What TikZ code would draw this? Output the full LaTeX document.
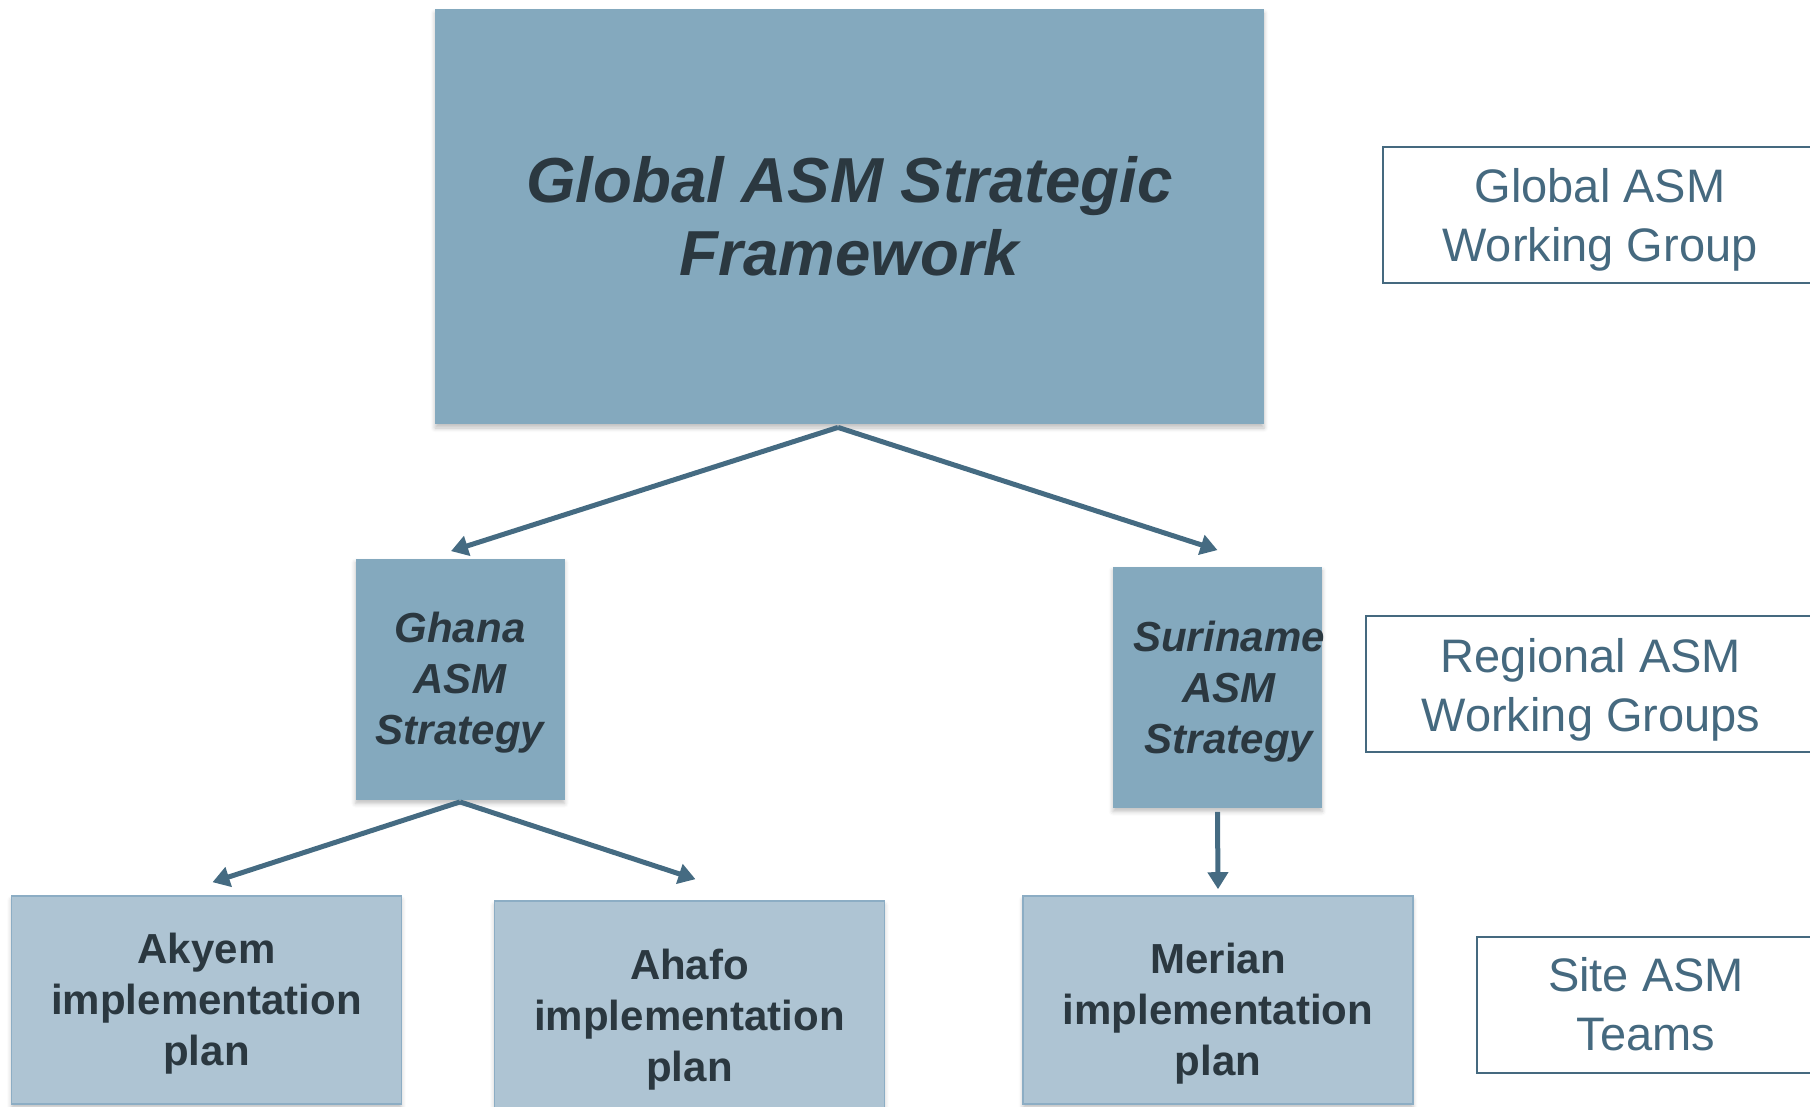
\documentclass[tikz,border=0pt]{standalone}
\usepackage{fontspec}
\setmainfont{Liberation Sans}
\usetikzlibrary{arrows.meta}
\usetikzlibrary{shadows.blur}

\definecolor{boxblue}{HTML}{84A9BE}
\definecolor{planblue}{HTML}{AEC4D3}
\definecolor{planedge}{HTML}{8CADC4}
\definecolor{inkdark}{HTML}{2B3840}
\definecolor{arrowblue}{HTML}{456B82}
\definecolor{labelblue}{HTML}{45697F}

% pushes the text of a box down by half of #1
\newcommand{\droptext}[1]{\rule{0pt}{\dimexpr0.73em+#1\relax}}
% pushes one line of text right by half of the gap
\newcommand{\nudge}{\hspace*{11.5pt}}

\begin{document}
\begin{tikzpicture}[x=0.5pt,y=-0.5pt,
	softshadow/.style={blur shadow={shadow xshift=0pt,shadow yshift=-2pt,shadow opacity=25,shadow blur steps=4}},
	strategybox/.style={fill=boxblue,text=inkdark,align=center,inner sep=0pt,softshadow,
		font=\bfseries\itshape\fontsize{21}{25.5}\selectfont,minimum width=104.5pt,minimum height=120.5pt},
	planbox/.style={fill=planblue,draw=planedge,line width=0.8pt,text=inkdark,align=center,inner sep=0pt,softshadow,
		font=\bfseries\fontsize{21}{25.5}\selectfont,minimum width=195pt,minimum height=104pt},
	levelbox/.style={draw=labelblue,line width=1pt,text=labelblue,align=center,inner sep=0pt,
		font=\fontsize{23.5}{29.5}\selectfont,minimum height=68pt},
	flow/.style={draw=arrowblue,line width=2.5pt,-{Triangle[length=8.5pt,width=10pt]}}]
		\useasboundingbox (0,0) rectangle (1810,1107);
		% top level
		\node[strategybox,minimum width=414.5pt,minimum height=207.5pt,font=\bfseries\itshape\fontsize{31.8}{36.5}\selectfont] (framework) at (849.5,216.5){Global ASM Strategic\\Framework};
		% regional strategies
		\node[strategybox] (ghana) at (460,679){\droptext{3.5pt}Ghana\\ASM\\Strategy};
		\node[strategybox,inner xsep=-1.5pt] (suriname) at (1217.5,687){\droptext{4.6pt}\nudge Suriname\\\nudge ASM\\\nudge Strategy};
		% site plans
		\node[planbox] (akyem) at (206.5,1000){\droptext{3.5pt}Akyem\\implementation\\plan};
		\node[planbox,minimum height=114pt] (ahafo) at (689.5,1015){\droptext{4.6pt}Ahafo\\implementation\\plan};
		\node[planbox] (merian) at (1218,1000){\droptext{14pt}Merian\\implementation\\plan};
		% level labels
		\node[levelbox,minimum width=217pt] (globalwg) at (1600,215){\droptext{4.6pt}Global ASM\\Working Group};
		\node[levelbox,minimum width=225pt] (regionalwg) at (1591,683.5){\droptext{5.8pt}Regional ASM\\Working Groups};
		\node[levelbox,minimum width=169pt] (siteteams) at (1646,1004.5){Site ASM\\Teams};
		% connectors
		\coordinate (topfork) at ([xshift=-5.75pt,yshift=-1.5pt]framework.south);
		\coordinate (ghanafork) at ([yshift=-1pt]ghana.south);
		\draw[flow] (topfork) -- ([xshift=-4.5pt,yshift=3.5pt]ghana.north);
		\draw[flow] (topfork) -- ([yshift=8pt]suriname.north);
		\draw[flow] (ghanafork) -- ([xshift=3pt,yshift=6.5pt]akyem.north);
		\draw[flow] (ghanafork) -- ([xshift=3pt,yshift=10.5pt]ahafo.north);
		\draw[flow] ([yshift=-2pt]suriname.south) -- ([yshift=3pt]merian.north);
\end{tikzpicture}
\end{document}
